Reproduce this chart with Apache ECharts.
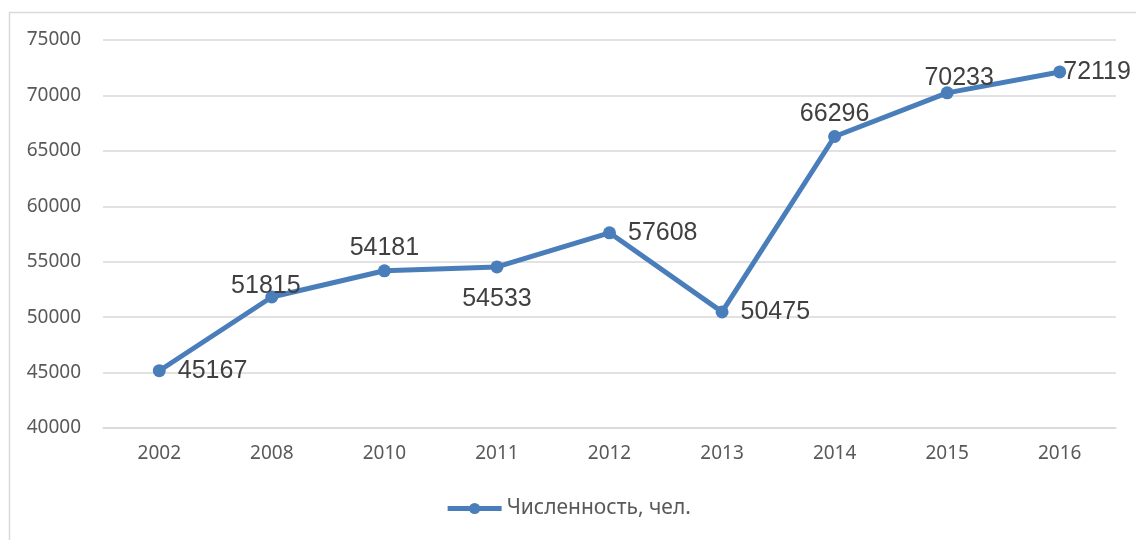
<!DOCTYPE html>
<html>
<head>
<meta charset="utf-8">
<script src="https://cdn.jsdelivr.net/npm/echarts@6/dist/echarts.min.js"></script>
<style>
  html, body { margin: 0; padding: 0; background: #fff; }
  #chart { width: 1136px; height: 540px; }
</style>
</head>
<body>
<div id="chart"></div>
<script>
const years = ['2002', '2008', '2010', '2011', '2012', '2013', '2014', '2015', '2016'];
const population = [45167, 51815, 54181, 54533, 57608, 50475, 66296, 70233, 72119];
const labelSides = ['right', 'top', 'top', 'bottom', 'right', 'right', 'top', 'top', 'right'];
const labelGaps = [12, -8, 4, 13, 12, 12, 3, -4, -3];
const labelShiftX = [0, -6, 0, 0, 0, 0, 0, 12, 0];
const seriesName = 'Численность, чел.';

const chart = echarts.init(document.getElementById('chart'));

const points = population.map((v, i) => ({
  value: v,
  label: {
    position: labelSides[i],
    distance: labelGaps[i],
    offset: [labelShiftX[i], 0]
  }
}));

chart.setOption({
  animation: false,
  graphic: [{
    type: 'rect',
    shape: { x: 9.5, y: 12.5, width: 1200, height: 600 },
    style: { fill: 'none', stroke: '#d9d9d9', lineWidth: 1.5 },
    silent: true
  }],
  grid: { left: 103, right: 20, top: 40, bottom: 112 },
  legend: {
    bottom: 16,
    left: 'center',
    itemWidth: 54,
    itemHeight: 14,
    itemGap: 4,
    lineStyle: { width: 5 },
    textStyle: { color: '#595959', fontSize: 21, fontFamily: 'Noto Sans' },
    data: [seriesName]
  },
  xAxis: {
    type: 'category',
    data: years,
    boundaryGap: true,
    axisLine: { show: true, lineStyle: { color: '#d9d9d9', width: 1.5 } },
    axisTick: { show: false },
    axisLabel: { color: '#595959', fontSize: 19, fontFamily: 'Noto Sans', margin: 16 }
  },
  yAxis: {
    type: 'value',
    min: 40000,
    max: 75000,
    interval: 5000,
    axisLine: { show: false },
    axisTick: { show: false },
    splitLine: { lineStyle: { color: '#d9d9d9', width: 1.5 } },
    axisLabel: {
      color: '#595959', fontSize: 19, fontFamily: 'Noto Sans', margin: 22,
      formatter: v => String(v)
    }
  },
  series: [{
    name: seriesName,
    type: 'line',
    data: points,
    symbol: 'circle',
    symbolSize: 13,
    lineStyle: { color: '#4a7ebb', width: 5 },
    itemStyle: { color: '#4a7ebb' },
    label: {
      show: true,
      color: '#404040',
      fontSize: 25,
      fontFamily: 'Liberation Sans'
    }
  }]
});
</script>
</body>
</html>
